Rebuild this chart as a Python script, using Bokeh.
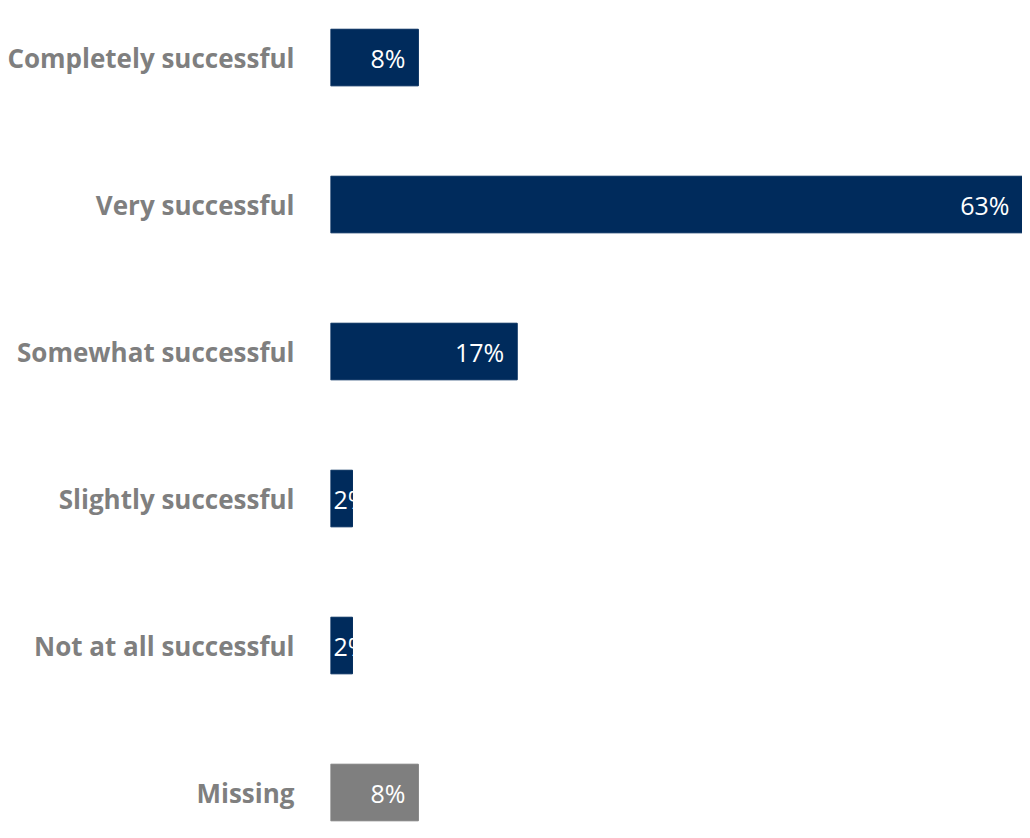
from bokeh.plotting import figure
from bokeh.models import ColumnDataSource, Range1d, FixedTicker
from bokeh.core.properties import value
from bokeh.embed import file_html
from bokeh.resources import INLINE

categories = ["Completely successful", "Very successful", "Somewhat successful",
              "Slightly successful", "Not at all successful", "Missing"]
percents = [8, 63, 17, 2, 2, 8]
labels = ["8%", "63%", "17%", "2%", "2%", "8%"]
colors = ["#002B5C", "#002B5C", "#002B5C", "#002B5C", "#002B5C", "#7F7F7F"]

positions = list(range(len(categories)))

W, H = 1022, 822
LEFT = 330
frame_w = W - LEFT
xmax = max(percents)
px_per_unit = frame_w / xmax

# label placement: right-aligned inside bar end, or left-aligned at bar start if bar is too narrow
lab_x, lab_align, lab_off = [], [], []
for v, t in zip(percents, labels):
    if v * px_per_unit > 60:
        lab_x.append(v); lab_align.append("right"); lab_off.append(-13)
    else:
        lab_x.append(0); lab_align.append("left"); lab_off.append(3)

src = ColumnDataSource(dict(y=positions, v=percents, c=colors, lx=lab_x,
                            la=lab_align, lo=lab_off, t=labels))

p = figure(width=W, height=H, output_backend="svg", toolbar_location=None,
           x_range=Range1d(0, xmax), y_range=Range1d(5.204, -0.388),
           min_border_left=LEFT, min_border_right=0, min_border_top=0,
           min_border_bottom=0, outline_line_color=None)

p.hbar(y="y", right="v", left=0, height=0.385, color="c", source=src)
p.text(x="lx", y="y", text="t", text_align="la", x_offset="lo",
       text_baseline="middle", text_color="#FFFFFF", text_font_size="25px",
       text_font=value("Open Sans"), source=src)

p.xaxis.visible = False
p.xgrid.visible = False
p.ygrid.visible = False

ya = p.yaxis[0]
ya.ticker = FixedTicker(ticks=positions)
ya.major_label_overrides = {i: c for i, c in zip(positions, categories)}
ya.axis_line_color = None
ya.major_tick_line_color = None
ya.minor_tick_line_color = None
ya.major_label_text_color = "#7F7F7F"
ya.major_label_text_font = "Open Sans"
ya.major_label_text_font_style = "bold"
ya.major_label_text_font_size = "26px"
ya.major_label_standoff = 30

open("out.html", "w").write(file_html(p, INLINE))
